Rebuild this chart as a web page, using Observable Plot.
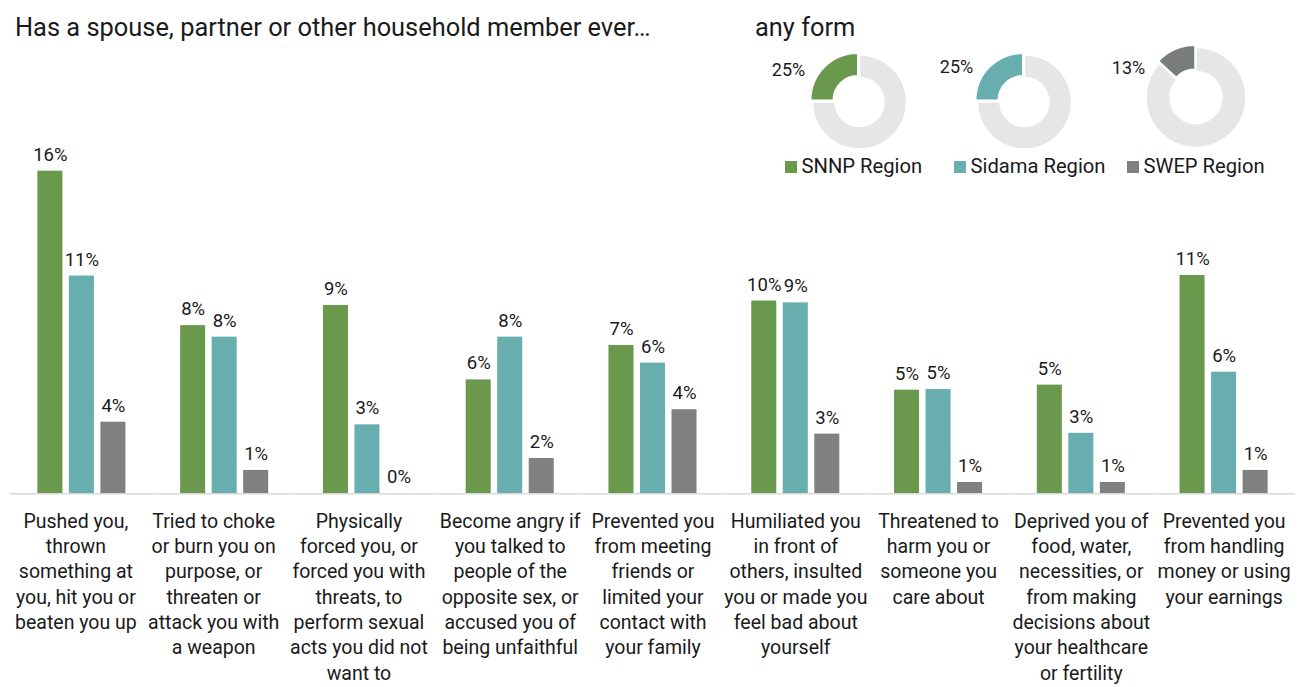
<!DOCTYPE html>
<html><head><meta charset="utf-8">
<script src="https://cdn.jsdelivr.net/npm/d3@7"></script>
<script src="https://cdn.jsdelivr.net/npm/@observablehq/plot@0.6"></script>
<style>
html,body{margin:0;padding:0;background:#fff;}
#wrap{position:relative;width:1303px;height:687px;overflow:hidden;font-family:Roboto, sans-serif;color:#1a1a1a;}
.abs{position:absolute;white-space:nowrap;}
</style></head><body><div id="wrap"></div>
<script>
// ---- data ----
const categories = [
  "Pushed you,\nthrown\nsomething at\nyou, hit you or\nbeaten you up",
  "Tried to choke\nor burn you on\npurpose, or\nthreaten or\nattack you with\na weapon",
  "Physically\nforced you, or\nforced you with\nthreats, to\nperform sexual\nacts you did not\nwant to",
  "Become angry if\nyou talked to\npeople of the\nopposite sex, or\naccused you of\nbeing unfaithful",
  "Prevented you\nfrom meeting\nfriends or\nlimited your\ncontact with\nyour family",
  "Humiliated you\nin front of\nothers, insulted\nyou or made you\nfeel bad about\nyourself",
  "Threatened to\nharm you or\nsomeone you\ncare about",
  "Deprived you of\nfood, water,\nnecessities, or\nfrom making\ndecisions about\nyour healthcare\nor fertility",
  "Prevented you\nfrom handling\nmoney or using\nyour earnings"
];
const series = ["SNNP Region", "Sidama Region", "SWEP Region"];
const snnpValues   = [16.0, 8.34, 9.34, 5.65, 7.36, 9.56, 5.14, 5.39, 10.83];
const sidamaValues = [10.8, 7.77, 3.42, 7.77, 6.48, 9.47, 5.17, 3.00, 6.03];
const swepValues   = [3.55, 1.16, 0.00, 1.75, 4.17, 2.96, 0.56, 0.56, 1.16];
const anyFormValues = [25, 25, 13];
const titleText = "Has a spouse, partner or other household member ever…";
const donutTitle = "any form";

// ---- styles / layout ----
const colors = ["#6a994e", "#68aeaf", "#808080"];
const donutColors = ["#6a994e", "#68aeaf", "#787d7c"];
const donutRest = "#e6e6e6";
const labelShift = [-6, -11, -8.5, 0, 0, 0, 0, 0, 0];

const seriesValues = [snnpValues, sidamaValues, swepValues];
const rows = categories.flatMap((c, i) => series.map((s, j) => ({category: c, series: s, value: seriesValues[j][i]})));

const wrap = document.getElementById("wrap");

const axisMarks = categories.map((c, i) => Plot.axisFx({
  ticks: [c], anchor: "bottom", tickSize: 0, tickPadding: 15.7, fontSize: 19.5, lineHeight: 1.3,
  dx: labelShift[i], label: null, fill: "#1a1a1a"
}));

const chart = Plot.plot({
  width: 1303, height: 687,
  marginLeft: 10, marginRight: 8, marginTop: 170.7, marginBottom: 193.7,
  style: {fontFamily: "Roboto, sans-serif", background: "transparent", color: "#1a1a1a", overflow: "visible"},
  fx: {domain: categories, padding: 0, round: false, label: null},
  x: {domain: series, paddingInner: 0.206, paddingOuter: 0.868, round: false, axis: null},
  y: {domain: [0, 16], axis: null},
  color: {domain: series, range: colors},
  marks: [
    Plot.barY(rows, {fx: "category", x: "series", y: "value", fill: "series"}),
    Plot.ruleY([0], {stroke: "#d9d9d9", strokeWidth: 1.5}),
    Plot.text(rows, {fx: "category", x: "series", y: "value", text: d => Math.round(d.value) + "%",
      lineAnchor: "bottom", dy: -10.5, fontSize: 18.5, fill: "#1a1a1a"}),
    ...axisMarks
  ]
});
chart.style.position = "absolute"; chart.style.left = "0px"; chart.style.top = "0px";
wrap.appendChild(chart);

// donuts
const donutLayout = [
  {cx: 859.5, cy: 102, r0: 24.5, r1: 47, lx: 788.5, ly: 75.5},
  {cx: 1024.5, cy: 102, r0: 24.5, r1: 47, lx: 956.5, ly: 72.5},
  {cx: 1196, cy: 97.5, r0: 26, r1: 50, lx: 1128.5, ly: 74}
];
const donutMark = () => {
  const g = d3.create("svg:g");
  anyFormValues.forEach((v, i) => {
    const L = donutLayout[i];
    const pie = d3.pie().sort(null).value(d => d)([100 - v, v]);
    const arc = d3.arc().innerRadius(L.r0).outerRadius(L.r1);
    const gi = g.append("g").attr("transform", `translate(${L.cx},${L.cy})`);
    gi.append("path").attr("d", arc(pie[0])).attr("fill", donutRest).attr("stroke", "#fff").attr("stroke-width", 1.5);
    const mid = (pie[1].startAngle + pie[1].endAngle) / 2, off = 2.5;
    gi.append("path").attr("d", arc(pie[1]))
      .attr("transform", `translate(${off * Math.sin(mid)},${-off * Math.cos(mid)})`)
      .attr("fill", donutColors[i]).attr("stroke", "#fff").attr("stroke-width", 1.5);
    g.append("text").attr("x", L.lx).attr("y", L.ly).attr("text-anchor", "middle")
      .attr("font-size", 18).attr("fill", "#1a1a1a").text(v + "%");
  });
  return g.node();
};
const donuts = Plot.plot({
  width: 1303, height: 180, margin: 0,
  style: {fontFamily: "Roboto, sans-serif", background: "transparent", overflow: "visible"},
  marks: [donutMark]
});
donuts.style.position = "absolute"; donuts.style.left = "0px"; donuts.style.top = "0px";
wrap.appendChild(donuts);

// title texts
function addText(txt, left, top, size) {
  const d = document.createElement("div");
  d.className = "abs";
  d.style.left = left + "px"; d.style.top = top + "px";
  d.style.fontSize = size + "px"; d.style.lineHeight = size + "px";
  d.textContent = txt;
  wrap.appendChild(d);
  return d;
}
addText(titleText, 15, 14.7, 25.4);
addText(donutTitle, 755, 14.7, 25.4);

// legend
const legendX = [785, 954, 1127];
series.forEach((s, i) => {
  const sq = document.createElement("div");
  sq.className = "abs";
  sq.style.left = legendX[i] + "px"; sq.style.top = "160.7px";
  sq.style.width = "12px"; sq.style.height = "12px"; sq.style.background = colors[i];
  wrap.appendChild(sq);
  addText(s, legendX[i] + 16.5, 155.5, 20.2);
});
</script></body></html>
